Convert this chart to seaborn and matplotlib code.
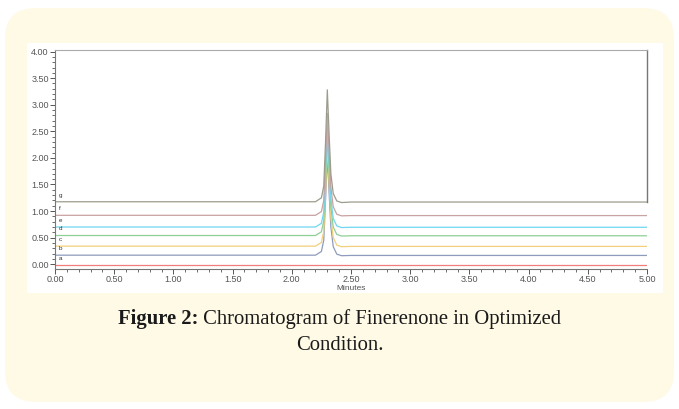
import numpy as np
import pandas as pd
import matplotlib
matplotlib.use("Agg")
import matplotlib.pyplot as plt
from matplotlib.patches import FancyBboxPatch, Rectangle
import seaborn as sns

# ---- data ----
time_min = [0.0, 2.20, 2.25, 2.27, 2.285, 2.30, 2.315, 2.33, 2.35, 2.38, 2.42, 2.50, 5.0]
trace_a = [-0.01, -0.01, -0.01, -0.01, -0.01, -0.01, -0.01, -0.01, -0.01, -0.01, -0.01, -0.01, -0.01]
trace_b = [0.17, 0.17, 0.24, 0.45, 1.20, 2.05, 1.35, 0.70, 0.33, 0.19, 0.16, 0.165, 0.165]
trace_c = [0.34, 0.34, 0.41, 0.62, 1.35, 2.25, 1.55, 0.87, 0.50, 0.36, 0.33, 0.335, 0.335]
trace_d = [0.54, 0.54, 0.61, 0.82, 1.55, 2.45, 1.75, 1.07, 0.70, 0.56, 0.53, 0.535, 0.535]
trace_e = [0.70, 0.70, 0.77, 0.98, 1.75, 2.64, 1.92, 1.23, 0.86, 0.72, 0.69, 0.695, 0.695]
trace_f = [0.92, 0.92, 0.99, 1.20, 1.95, 2.84, 2.12, 1.45, 1.08, 0.94, 0.91, 0.915, 0.915]
trace_g = [1.175, 1.175, 1.25, 1.47, 2.30, 3.28, 2.45, 1.70, 1.33, 1.19, 1.16, 1.17, 1.17]
trace_names = ["a", "b", "c", "d", "e", "f", "g"]
trace_colors = ["#f27d7d", "#8d9bbd", "#f2cf7a", "#8fcf96", "#6fd6f2", "#c9a2a2", "#9c9c8c"]
x_ticks = [0.0, 0.5, 1.0, 1.5, 2.0, 2.5, 3.0, 3.5, 4.0, 4.5, 5.0]
y_ticks = [0.0, 0.5, 1.0, 1.5, 2.0, 2.5, 3.0, 3.5, 4.0]
x_label = "Minutes"
caption_bold = "Figure 2:"
caption_rest = " Chromatogram of Finerenone in Optimized"
caption_line2 = "Condition."

traces = [trace_a, trace_b, trace_c, trace_d, trace_e, trace_f, trace_g]
df = pd.concat([
    pd.DataFrame({"time": time_min, "signal": vals, "trace": name})
    for name, vals in zip(trace_names, traces)
], ignore_index=True)

sns.set_theme(style="white")
plt.rcParams["font.family"] = ["Liberation Sans", "DejaVu Sans"]

W, H = 679, 409
fig = plt.figure(figsize=(W / 100, H / 100), dpi=100)
fig.patch.set_facecolor("white")

# cream rounded card
card = FancyBboxPatch((5 / W, 1 - 402 / H), 669 / W, 394 / H,
                      boxstyle="round,pad=0,rounding_size=0.045",
                      transform=fig.transFigure, facecolor="#fffae6",
                      edgecolor="none", mutation_aspect=W / H, zorder=-3)
fig.patches.append(card)
# white panel behind the chromatogram
panel = Rectangle((27 / W, 1 - 293 / H), 636 / W, 250 / H,
                  transform=fig.transFigure, facecolor="white",
                  edgecolor="none", zorder=-2)
fig.patches.append(panel)

ax = fig.add_axes([55 / W, 1 - 269 / H, 592 / W, 219 / H])
ax.set_zorder(2)
ax.set_facecolor("white")
sns.lineplot(data=df, x="time", y="signal", hue="trace", palette=trace_colors,
             hue_order=trace_names, sort=False, estimator=None,
             linewidth=0.9, legend=False, ax=ax)

ax.set_xlim(0, 5.0)
ax.set_ylim(-0.09, 4.03)
ax.set_xticks(x_ticks)
ax.set_xticklabels([f"{v:.2f}" for v in x_ticks])
ax.set_yticks(y_ticks)
ax.set_yticklabels([f"{v:.2f}" for v in y_ticks])
ax.set_xticks(np.arange(0, 5.0001, 0.1), minor=True)
ax.set_yticks(np.arange(0, 4.0001, 0.1), minor=True)
ax.tick_params(axis="both", which="major", direction="out", length=3.5, width=0.7,
               color="#555555", labelsize=6.5, labelcolor="#555555", pad=1)
ax.tick_params(axis="both", which="minor", direction="out", length=2, width=0.6,
               color="#555555")
ax.tick_params(axis="x", bottom=True, which="both")
ax.tick_params(axis="y", left=True, which="both")
ax.set_xlabel(x_label, fontsize=6, color="#555555", labelpad=0.8)
ax.set_ylabel("")

for side in ["left", "bottom", "top", "right"]:
    ax.spines[side].set_color("#777777")
    ax.spines[side].set_linewidth(0.8)
ax.spines["top"].set_color("#aaaaaa")
ax.spines["right"].set_bounds(trace_g[-1], 4.03)
ax.spines["right"].set_linewidth(1.0)

for name, vals in zip(trace_names, traces):
    ax.annotate(name, xy=(0.03, vals[0]), xytext=(0, 3), textcoords="offset points",
                fontsize=4.5, color="#333333", ha="left", va="bottom")

# caption
serif = ["Liberation Serif", "DejaVu Serif"]
fs = 14.9
r = fig.canvas.get_renderer()
t1 = fig.text(0, 0, caption_bold, fontsize=fs, fontweight="bold", family=serif)
t2 = fig.text(0, 0, caption_rest, fontsize=fs, family=serif)
w1 = t1.get_window_extent(r).width
w2 = t2.get_window_extent(r).width
x0 = (W / 2 - (w1 + w2) / 2) / W
y1 = 1 - 324 / H
t1.set_position((x0, y1))
t2.set_position((x0 + w1 / W, y1))
t1.set_color("#1a1a1a"); t2.set_color("#1a1a1a")
fig.text(0.5, 1 - 350 / H, caption_line2, fontsize=fs, family=serif,
         ha="center", color="#1a1a1a")

fig.savefig("out.png", dpi=100, facecolor=fig.get_facecolor())
